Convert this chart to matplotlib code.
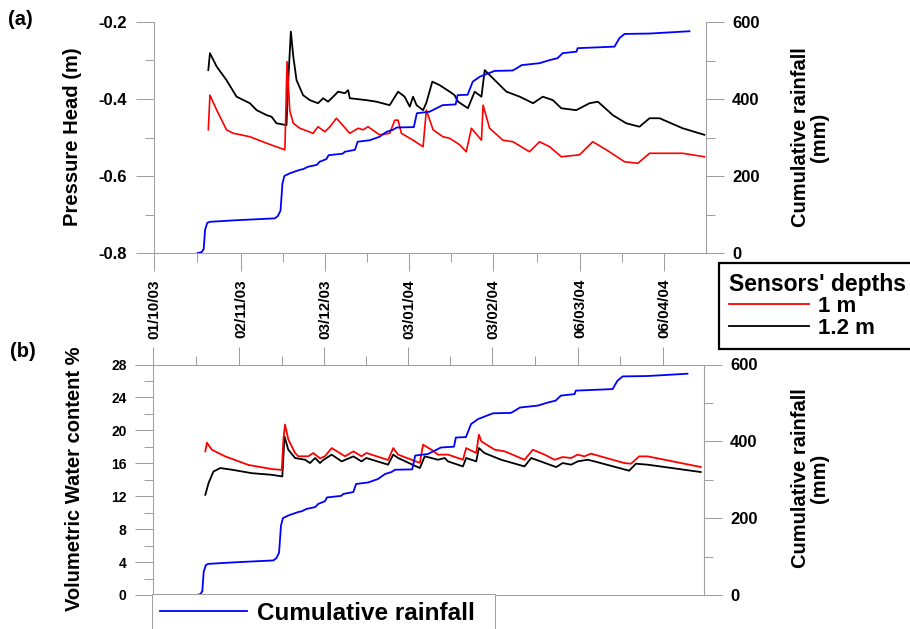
from datetime import datetime

import matplotlib

matplotlib.use("Agg")

import matplotlib.pyplot as plt
from matplotlib.lines import Line2D
from matplotlib.ticker import FixedLocator, MultipleLocator, NullFormatter


RED = "#FF0000"
BLACK = "#000000"
BLUE = "#0000FF"
AXIS_GRAY = "#A0A0A0"

W, H = 910, 629

plt.rcParams.update(
    {
        "font.family": ["Liberation Sans", "DejaVu Sans"],
        "font.weight": "bold",
        "axes.unicode_minus": False,
        "axes.edgecolor": AXIS_GRAY,
        "axes.linewidth": 0.75,
    }
)

# x axis: days counted from 01/10/03
DATE_LABELS = ["01/10/03", "02/11/03", "03/12/03", "03/01/04", "03/02/04", "06/03/04", "06/04/04"]

RAIN_DAY = [16.1, 17.5, 18.3, 18.8, 19.6, 20.5, 30.0, 44.5, 45.6, 46.6, 47.3, 48.0, 50.0, 53.7, 55.0,
            56.7, 60.0, 61.0, 63.5, 64.3, 69.5, 70.3, 74.0, 75.0, 79.5, 83.1, 85.7, 88.0, 89.4, 95.7,
            96.8, 101.5, 106.3, 111.1, 111.8, 115.5, 117.4, 120.0, 125.5, 132.1, 133.6, 135.4, 142.0,
            145.7, 148.6, 150.5, 155.6, 156.0, 169.6, 171.4, 173.3, 182.5, 197.2]
RAIN_MM = [0, 2, 10, 60, 78, 81, 85, 90, 96, 110, 180, 200, 207, 216, 218,
           224, 229, 237, 244, 254, 258, 263, 268, 289, 293, 302, 315, 320, 326, 327,
           363, 367, 384, 386, 410, 411, 445, 458, 473, 474, 480, 488, 493,
           501, 506, 519, 523, 532, 536, 558, 569, 570, 576]

HEAD_1M_DAY = [20.0, 20.6, 23.1, 26.7, 29.2, 35.3, 41.5, 48.2, 49.0, 50.0, 51.3, 53.7, 58.6, 60.4,
               62.9, 64.8, 67.2, 72.1, 75.2, 77.0, 78.8, 83.1, 86.8, 88.7, 89.9, 91.1, 95.4, 99.1,
               100.3, 102.8, 106.4, 108.9, 112.6, 115.0, 116.9, 120.6, 121.2, 123.6, 128.5, 132.2,
               138.3, 142.0, 145.7, 150.0, 156.7, 161.6, 166.6, 173.3, 178.2, 182.5, 194.7, 202.7]
HEAD_1M = [-0.48, -0.39, -0.429, -0.48, -0.489, -0.498, -0.515, -0.532, -0.303, -0.43, -0.463, -0.476,
           -0.489, -0.472, -0.485, -0.472, -0.45, -0.489, -0.476, -0.48, -0.472, -0.493, -0.489, -0.455,
           -0.455, -0.489, -0.507, -0.524, -0.429, -0.48, -0.498, -0.502, -0.519, -0.537, -0.476, -0.507,
           -0.416, -0.476, -0.507, -0.511, -0.537, -0.511, -0.524, -0.55, -0.545, -0.511, -0.532, -0.563,
           -0.567, -0.541, -0.541, -0.55]

HEAD_12M_DAY = [20.0, 20.6, 23.1, 26.7, 30.4, 35.3, 37.8, 41.5, 43.3, 45.1, 48.8, 49.4, 50.4, 51.3,
                52.5, 54.9, 57.4, 60.4, 62.3, 64.1, 66.0, 67.8, 70.3, 71.5, 72.1, 78.3, 81.9, 86.8,
                89.9, 92.3, 94.2, 95.4, 96.7, 99.1, 100.3, 102.5, 105.2, 108.9, 110.7, 112.0, 115.6,
                118.1, 120.6, 121.8, 124.8, 129.8, 134.7, 139.6, 143.2, 146.9, 150.0, 155.5, 160.4,
                163.5, 169.0, 173.9, 178.8, 182.5, 186.2, 194.7, 202.7]
HEAD_12M = [-0.325, -0.281, -0.316, -0.351, -0.394, -0.411, -0.429, -0.442, -0.446, -0.463, -0.468,
            -0.359, -0.225, -0.29, -0.351, -0.39, -0.403, -0.411, -0.398, -0.407, -0.394, -0.381,
            -0.385, -0.377, -0.398, -0.403, -0.407, -0.416, -0.381, -0.394, -0.42, -0.394, -0.416,
            -0.429, -0.41, -0.355, -0.364, -0.381, -0.39, -0.407, -0.424, -0.381, -0.394, -0.325,
            -0.346, -0.381, -0.394, -0.411, -0.394, -0.403, -0.424, -0.429, -0.411, -0.407, -0.442,
            -0.463, -0.472, -0.45, -0.45, -0.476, -0.493]

VWC_1M_DAY = [19.4, 20.0, 21.8, 26.7, 35.3, 43.9, 47.6, 48.2, 48.8, 50.0, 52.5, 53.7, 57.4, 59.2,
              61.7, 63.5, 66.0, 70.9, 74.0, 77.0, 78.8, 86.8, 88.7, 90.5, 98.5, 99.7, 102.8, 105.2,
              108.9, 112.6, 114.4, 115.6, 119.3, 120.3, 121.2, 126.1, 129.8, 137.1, 140.2, 144.5,
              148.2, 151.2, 154.3, 156.7, 159.2, 161.6, 173.9, 176.4, 179.4, 182.5, 202.1]
VWC_1M = [17.45, 18.5, 17.65, 16.84, 15.8, 15.3, 15.2, 18.9, 20.7, 18.9, 17.25, 16.85, 16.85, 17.25,
          16.6, 16.85, 17.85, 16.85, 17.45, 16.85, 17.25, 16.4, 17.85, 17.05, 16.05, 18.26, 17.65, 17.05,
          17.05, 16.64, 16.43, 17.85, 17.25, 19.48, 18.66, 17.65, 17.45, 16.43, 17.65, 17.05,
          16.43, 16.76, 16.64, 17.05, 16.84, 17.17, 16.03, 15.95, 16.84, 16.84, 15.55]

VWC_12M_DAY = [19.4, 20.6, 22.4, 24.9, 29.2, 36.5, 43.9, 47.8, 48.6, 50.0, 52.5, 56.2, 58.0, 59.9,
               61.7, 62.9, 66.0, 69.7, 74.0, 77.0, 78.8, 86.8, 88.7, 90.5, 98.5, 100.3, 102.8, 105.2,
               107.7, 108.9, 114.4, 115.6, 119.3, 120.3, 122.3, 128.5, 137.1, 139.6, 148.8, 151.2,
               154.3, 156.7, 160.4, 162.9, 175.7, 178.2, 182.5, 202.1]
VWC_12M = [12.17, 13.6, 15.0, 15.42, 15.22, 14.8, 14.6, 14.4, 19.27, 17.65, 16.64, 16.43, 16.03, 16.64,
           16.03, 16.4, 17.05, 16.23, 16.84, 16.23, 16.64, 15.83, 17.05, 16.64, 15.42, 16.84, 16.64, 16.43,
           16.64, 16.23, 15.62, 16.64, 16.23, 17.85, 17.25, 16.43, 15.62, 16.64, 15.54, 16.03,
           15.83, 16.23, 16.43, 16.23, 15.1, 15.95, 15.83, 14.94]


def px_rect(left, top, right, bottom):
    return [left / W, 1 - bottom / H, (right - left) / W, (bottom - top) / H]


def style_ticks(ax):
    ax.tick_params(which="major", length=12.8, width=0.75, color=AXIS_GRAY, labelcolor=BLACK)
    ax.tick_params(which="minor", length=6.4, width=0.75, color=AXIS_GRAY)
    for spine in ax.spines.values():
        spine.set_color(AXIS_GRAY)


base = datetime.strptime(DATE_LABELS[0], "%d/%m/%y")
major_days = [(datetime.strptime(d, "%d/%m/%y") - base).days for d in DATE_LABELS]
minor_days = [(a + b) / 2 for a, b in zip(major_days[:-1], major_days[1:])]
minor_days.append(major_days[-1] + (major_days[-1] - major_days[-2]) / 2)
X_MAX = 203.3

fig = plt.figure(figsize=(W / 100, H / 100), dpi=100)

# ---- (a) pressure head ----
ax_a = fig.add_axes(px_rect(154, 22, 706, 253))
ax_a.plot(HEAD_12M_DAY, HEAD_12M, color=BLACK, lw=1.3)
ax_a.plot(HEAD_1M_DAY, HEAD_1M, color=RED, lw=1.2)
ax_a.set_xlim(0, X_MAX)
ax_a.set_ylim(-0.8, -0.2)
ax_a.yaxis.set_major_locator(MultipleLocator(0.2))
ax_a.yaxis.set_minor_locator(MultipleLocator(0.1))
ax_a.yaxis.set_major_formatter(lambda v, p: f"{v:.1f}")
ax_a.xaxis.set_major_locator(FixedLocator(major_days))
ax_a.xaxis.set_minor_locator(FixedLocator(minor_days))
ax_a.set_xticklabels(DATE_LABELS, rotation=90, fontsize=11, fontweight="bold")
ax_a.tick_params(axis="y", labelsize=12, pad=7)
ax_a.tick_params(axis="x", pad=6)
ax_a.spines["top"].set_visible(False)
style_ticks(ax_a)

ax_a2 = ax_a.twinx()
ax_a2.plot(RAIN_DAY, RAIN_MM, color=BLUE, lw=1.3)
ax_a2.set_ylim(0, 600)
ax_a2.yaxis.set_major_locator(MultipleLocator(200))
ax_a2.yaxis.set_minor_locator(MultipleLocator(100))
ax_a2.tick_params(axis="y", labelsize=12, pad=6)
for side in ("top", "left", "bottom"):
    ax_a2.spines[side].set_visible(False)
style_ticks(ax_a2)

# ---- (b) volumetric water content ----
ax_b = fig.add_axes(px_rect(152.7, 364.5, 704, 595))
ax_b.plot(VWC_12M_DAY, VWC_12M, color=BLACK, lw=1.3)
ax_b.plot(VWC_1M_DAY, VWC_1M, color=RED, lw=1.3)
ax_b.set_xlim(0, X_MAX)
ax_b.set_ylim(0, 28)
ax_b.yaxis.set_major_locator(MultipleLocator(4))
ax_b.yaxis.set_minor_locator(MultipleLocator(2))
ax_b.xaxis.set_major_locator(FixedLocator(major_days))
ax_b.xaxis.set_minor_locator(FixedLocator(minor_days))
ax_b.xaxis.set_major_formatter(NullFormatter())
ax_b.tick_params(axis="x", which="both", top=True, bottom=False, labeltop=False, labelbottom=False)
ax_b.tick_params(axis="y", labelsize=10, pad=6)
style_ticks(ax_b)

ax_b2 = ax_b.twinx()
ax_b2.plot(RAIN_DAY, RAIN_MM, color=BLUE, lw=1.3)
ax_b2.set_ylim(0, 600)
ax_b2.yaxis.set_major_locator(MultipleLocator(200))
ax_b2.yaxis.set_minor_locator(MultipleLocator(100))
ax_b2.tick_params(axis="y", labelsize=12, pad=6)
for side in ("top", "left", "bottom"):
    ax_b2.spines[side].set_visible(False)
style_ticks(ax_b2)

# ---- labels ----
fig.text(8 / W, 1 - 10 / H, "(a)", fontsize=14.5, va="top", ha="left")
fig.text(10 / W, 1 - 342 / H, "(b)", fontsize=14.5, va="top", ha="left")
fig.text(72.5 / W, 1 - 137 / H, "Pressure Head (m)", rotation=90, fontsize=14.5, ha="center", va="center")
fig.text(75 / W, 1 - 479 / H, "Volumetric Water content %", rotation=90, fontsize=14.5,
         ha="center", va="center")
for cy in (137, 478):
    fig.text(810 / W, 1 - cy / H, "Cumulative rainfall\n(mm)", rotation=90, fontsize=14.5,
             ha="center", va="center", linespacing=1.05, multialignment="center")

# ---- legends ----
leg_a = fig.legend(
    handles=[Line2D([], [], color=RED, lw=1.3), Line2D([], [], color=BLACK, lw=1.3)],
    labels=["1 m", "1.2 m"],
    title="Sensors' depths",
    title_fontproperties={"weight": "bold", "size": 16.5},
    prop={"weight": "bold", "size": 16},
    loc="upper left",
    bbox_to_anchor=(719 / W, 1 - 262.7 / H),
    borderaxespad=0,
    alignment="left",
    fancybox=False,
    edgecolor=BLACK,
    framealpha=1,
    handlelength=3.6,
    handletextpad=0.4,
    borderpad=0.45,
    labelspacing=0.02,
)
leg_a.get_frame().set_linewidth(1.6)

leg_b = fig.legend(
    handles=[Line2D([], [], color=BLUE, lw=1.3)],
    labels=["Cumulative rainfall  "],
    prop={"weight": "bold", "size": 17.5},
    loc="upper left",
    bbox_to_anchor=(152.3 / W, 1 - 594.3 / H),
    borderaxespad=0,
    fancybox=False,
    edgecolor=AXIS_GRAY,
    framealpha=1,
    handlelength=3.6,
    handletextpad=0.4,
    borderpad=0.3,
)
leg_b.get_frame().set_linewidth(0.75)

fig.savefig("out.png", dpi=100)
